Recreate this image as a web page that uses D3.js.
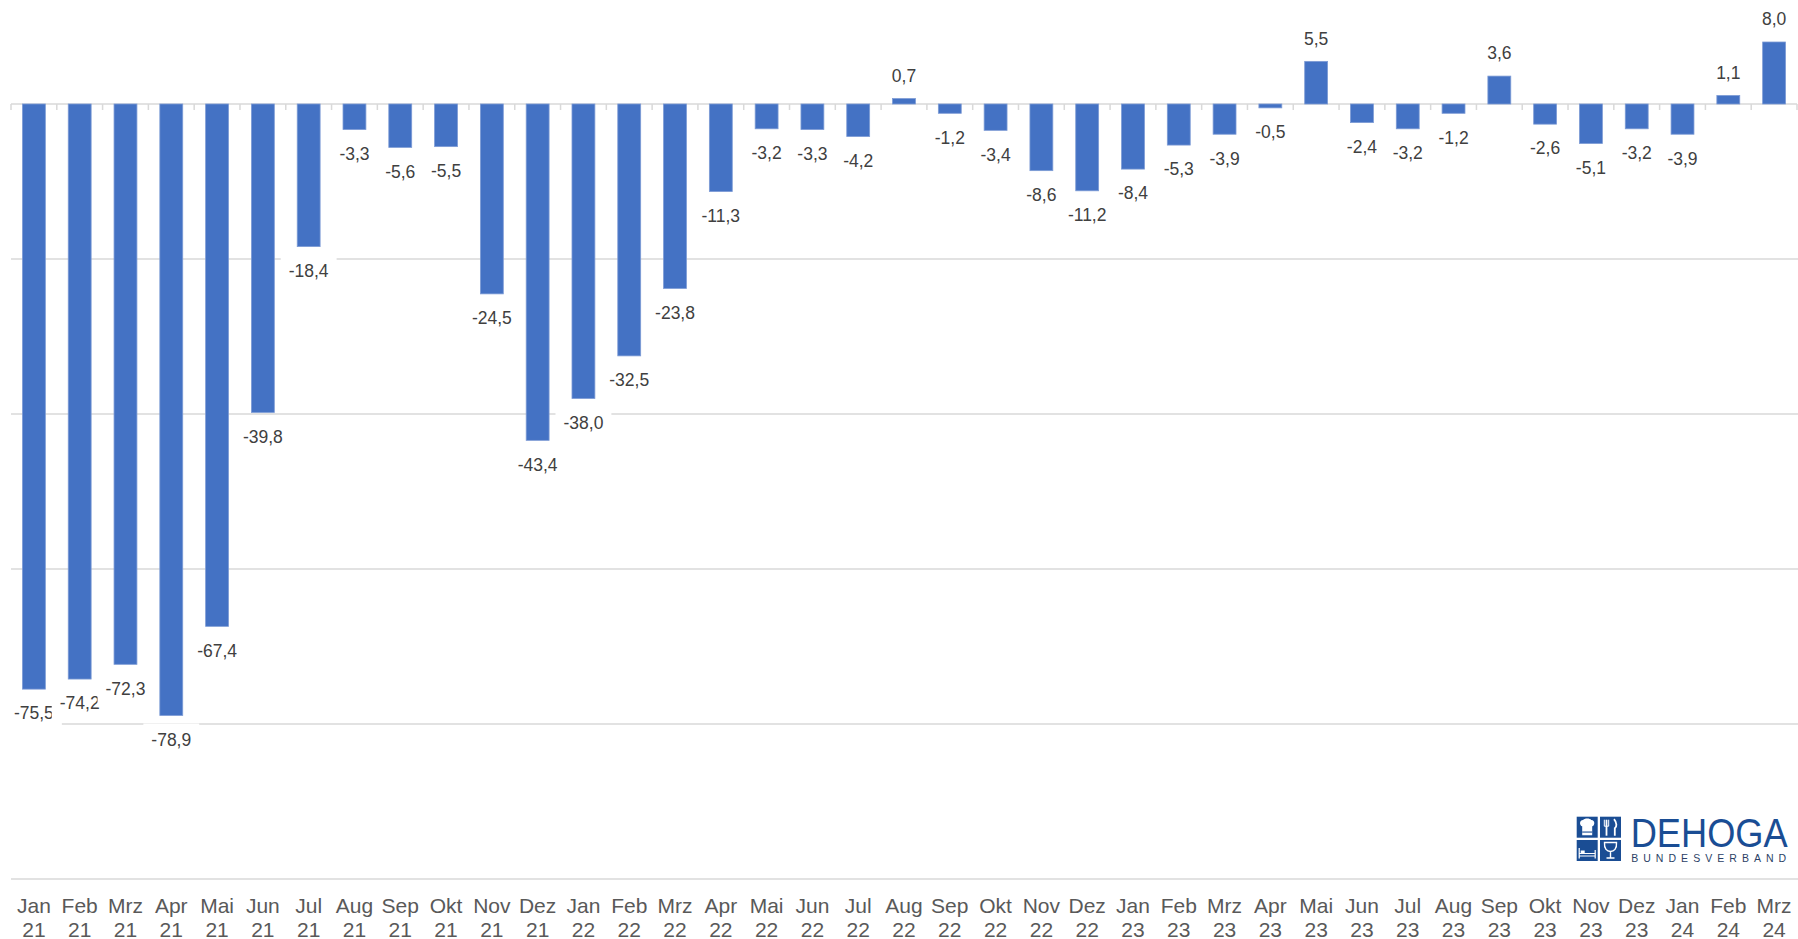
<!DOCTYPE html>
<html>
<head>
<meta charset="utf-8">
<script src="https://cdn.jsdelivr.net/npm/d3@7/dist/d3.min.js"></script>
<style>
  html, body { margin: 0; padding: 0; background: #fff; }
  svg { display: block; font-family: "Liberation Sans", Arial, sans-serif; }
</style>
</head>
<body>
<svg id="chart" width="1798" height="939"></svg>
<script>
// ---- data ----
const months = ["Jan","Feb","Mrz","Apr","Mai","Jun","Jul","Aug","Sep","Okt","Nov","Dez",
                "Jan","Feb","Mrz","Apr","Mai","Jun","Jul","Aug","Sep","Okt","Nov","Dez",
                "Jan","Feb","Mrz","Apr","Mai","Jun","Jul","Aug","Sep","Okt","Nov","Dez",
                "Jan","Feb","Mrz"];
const years = ["21","21","21","21","21","21","21","21","21","21","21","21",
               "22","22","22","22","22","22","22","22","22","22","22","22",
               "23","23","23","23","23","23","23","23","23","23","23","23",
               "24","24","24"];
const values = [-75.5,-74.2,-72.3,-78.9,-67.4,-39.8,-18.4,-3.3,-5.6,-5.5,-24.5,-43.4,
                -38.0,-32.5,-23.8,-11.3,-3.2,-3.3,-4.2,0.7,-1.2,-3.4,-8.6,-11.2,
                -8.4,-5.3,-3.9,-0.5,5.5,-2.4,-3.2,-1.2,3.6,-2.6,-5.1,-3.2,
                -3.9,1.1,8.0];
const gridTicks = [0,-20,-40,-60,-80,-100];

const categories = months.map((m,i) => m + " " + years[i]);
const data = categories.map((c,i) => ({cat: c, month: months[i], year: years[i], value: values[i]}));

// ---- layout ----
const svg = d3.select("#chart");
const left = 11, right = 1797, zeroY = 104, bottomY = 879;

const x = d3.scaleBand().domain(categories).range([left, right]).paddingInner(0.5).paddingOuter(0.25);
const y = d3.scaleLinear().domain([-100, 0]).range([bottomY, zeroY]);

// gridlines
svg.append("g").selectAll("line").data(gridTicks.filter(d => d !== 0)).join("line")
  .attr("x1", left).attr("x2", 1798)
  .attr("y1", d => y(d)).attr("y2", d => y(d))
  .attr("stroke", "#d9d9d9").attr("stroke-width", 1.5);

// zero axis with ticks
svg.append("line").attr("x1", left).attr("x2", right).attr("y1", y(0)).attr("y2", y(0))
  .attr("stroke", "#d9d9d9").attr("stroke-width", 1.5);
const step = x.step();
svg.append("g").selectAll("line").data(d3.range(categories.length + 1)).join("line")
  .attr("x1", i => left + i * step).attr("x2", i => left + i * step)
  .attr("y1", y(0)).attr("y2", y(0) + 6)
  .attr("stroke", "#d9d9d9").attr("stroke-width", 1.5);

// bars
svg.append("g").selectAll("rect").data(data).join("rect")
  .attr("x", d => x(d.cat))
  .attr("width", x.bandwidth())
  .attr("y", d => Math.min(y(d.value), y(0)))
  .attr("height", d => Math.abs(y(d.value) - y(0)))
  .attr("fill", "#4472c4")
  .attr("stroke", "#7d9bd5").attr("stroke-width", 0.8);

// data labels with white backgrounds
const fmt = v => v.toFixed(1).replace(".", ",");
const labelG = svg.append("g");
data.forEach(d => {
  const cx = x(d.cat) + x.bandwidth() / 2;
  const end = y(d.value);
  const cy = d.value >= 0 ? end - 23 : end + 24;
  const g = labelG.append("g");
  const bg = g.append("rect").attr("fill", "#fff");
  const t = g.append("text")
    .attr("x", cx).attr("y", cy + 6.3)
    .attr("text-anchor", "middle")
    .attr("font-size", 17.5)
    .attr("fill", "#404040")
    .text(fmt(d.value));
  const w = t.node().getComputedTextLength();
  bg.attr("x", cx - w / 2 - 8).attr("y", cy - 16).attr("width", w + 16).attr("height", 32);
});

// category labels (two lines)
const catG = svg.append("g").attr("fill", "#595959").attr("font-size", 21).attr("text-anchor", "middle");
data.forEach(d => {
  const cx = x(d.cat) + x.bandwidth() / 2;
  catG.append("text").attr("x", cx).attr("y", 912.5).text(d.month);
  catG.append("text").attr("x", cx).attr("y", 936.5).text(d.year);
});

// ---- DEHOGA logo ----
const logo = svg.append("g").attr("transform", "translate(1576.7,816.7)");
const blue = "#1a4d94";
const q = 21, gap = 2.3;
[[0,0],[1,0],[0,1],[1,1]].forEach(([i,j]) => {
  logo.append("rect").attr("x", i * (q + gap)).attr("y", j * (q + gap))
    .attr("width", q).attr("height", q).attr("fill", blue);
});
// chef hat (top-left)
logo.append("path").attr("fill", "#fff")
  .attr("d", "M5.5,18.5 L5.5,9.5 C2.5,9 2.5,3 6.5,3.2 C7.5,1.2 13.5,1.2 14.5,3.2 C18.5,3 18.5,9 15.5,9.5 L15.5,18.5 Z");
logo.append("rect").attr("x", 5.5).attr("y", 14.8).attr("width", 10).attr("height", 1.1).attr("fill", blue);
// knife and fork (top-right)
const tr = logo.append("g").attr("transform", `translate(${q + gap},0)`).attr("stroke", "#fff").attr("fill", "none");
tr.append("line").attr("x1", 6.5).attr("x2", 6.5).attr("y1", 3).attr("y2", 19).attr("stroke-width", 1.8);
tr.append("path").attr("d", "M4.3,3 L4.3,9.5 M8.7,3 L8.7,9.5 M4.3,9.5 L8.7,9.5").attr("stroke-width", 1);
tr.append("path").attr("d", "M14,2.5 C17,6 17,10 14.8,11.5 L14.8,19").attr("stroke-width", 1.8);
// bed (bottom-left)
const bl = logo.append("g").attr("transform", `translate(0,${q + gap})`).attr("stroke", "#fff").attr("fill", "none").attr("stroke-width", 1.2);
bl.append("path").attr("d", "M2.5,8 L2.5,18.5 M18.5,10 L18.5,18.5 M2.5,13.5 L18.5,13.5 M2.5,16 L18.5,16");
bl.append("rect").attr("x", 4).attr("y", 10.5).attr("width", 4).attr("height", 2.6).attr("fill", "#fff").attr("stroke", "none");
// wine glass (bottom-right)
const br = logo.append("g").attr("transform", `translate(${q + gap},${q + gap})`).attr("stroke", "#fff").attr("fill", "none").attr("stroke-width", 1.4);
br.append("path").attr("d", "M4.5,2.5 L16.5,2.5 C17,9 14,11.5 10.5,11.5 C7,11.5 4,9 4.5,2.5 Z M10.5,11.5 L10.5,17.5 M6.5,18 L14.5,18");
// text (horizontally condensed to fit the logo width)
const dText = logo.append("text").attr("x", 0).attr("y", 0).attr("font-size", 40).attr("fill", blue).text("DEHOGA");
const natW = dText.node().getComputedTextLength();
dText.attr("transform", `translate(54,30) scale(${157 / natW},1)`);
logo.append("text").attr("x", 54.5).attr("y", 45).attr("font-size", 10.5).attr("fill", "#2b3f66")
  .attr("textLength", 155).attr("lengthAdjust", "spacing").text("BUNDESVERBAND");
</script>
</body>
</html>
